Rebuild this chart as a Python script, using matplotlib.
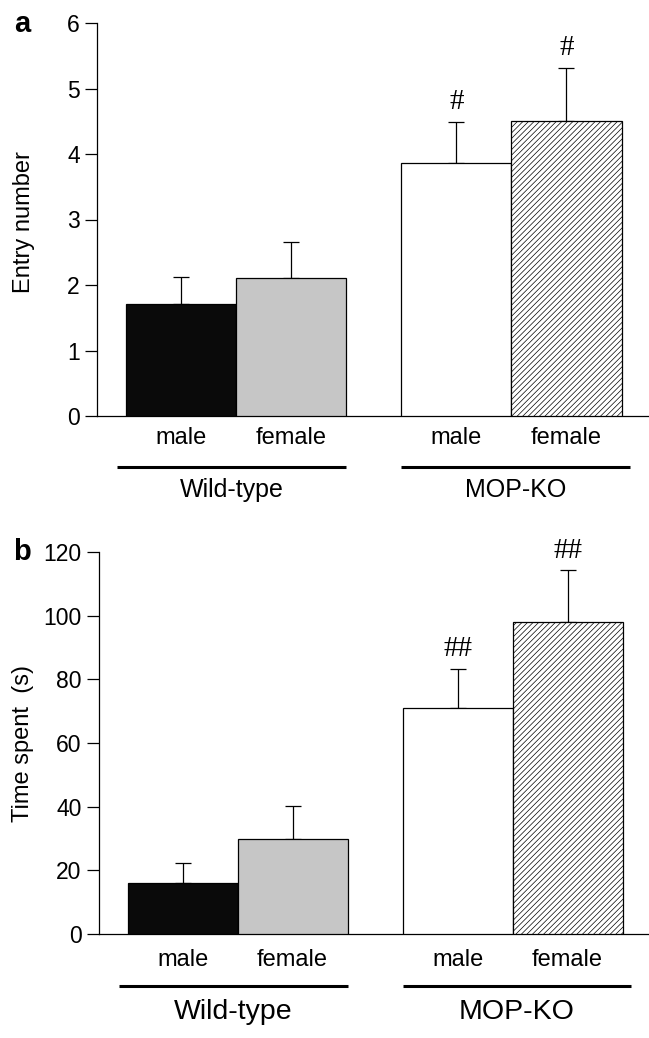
import numpy as np
import matplotlib
matplotlib.use('Agg')
import matplotlib.pyplot as plt
from matplotlib.transforms import blended_transform_factory

plt.rcParams['font.family'] = ['Liberation Sans', 'DejaVu Sans']
plt.rcParams['hatch.linewidth'] = 0.5

groups = ['Wild-type', 'MOP-KO']
sexes = ['male', 'female', 'male', 'female']

entry_mean = [1.71, 2.11, 3.86, 4.50]
entry_sem = [0.41, 0.54, 0.63, 0.82]
entry_marks = ['', '', '#', '#']

time_mean = [16.0, 29.9, 71.1, 98.1]
time_sem = [6.3, 10.4, 12.2, 16.1]
time_marks = ['', '', '##', '##']

x_pos = np.array([0.76, 1.76, 3.26, 4.26])
faces = ['#0a0a0a', '#c6c6c6', 'white', 'white']
hatches = [None, None, None, '//////']


def draw_panel(ax, means, sems, marks, ylim, yticks, lab_y, line_y, grp_y, grp_size):
    for x, m, f, h in zip(x_pos, means, faces, hatches):
        ax.bar(x, m, width=1.0, color=f, edgecolor='black', linewidth=0.9,
               hatch=h, zorder=3)
    ax.errorbar(x_pos, means, yerr=[np.zeros(4), sems], fmt='none',
                ecolor='black', elinewidth=0.9, capsize=6, capthick=0.9, zorder=2)
    for x, m, s, t in zip(x_pos, means, sems, marks):
        if t:
            ax.annotate(t, (x, m + s), xytext=(0, 5), textcoords='offset points',
                        ha='center', va='bottom', fontsize=21, family='Liberation Serif')

    ax.set_xlim(0, 5.0)
    ax.set_ylim(*ylim)
    ax.set_yticks(yticks)
    ax.set_xticks([])
    for sp in ['top', 'right']:
        ax.spines[sp].set_visible(False)
    ax.spines['left'].set_linewidth(0.9)
    ax.spines['bottom'].set_linewidth(0.9)
    ax.tick_params(axis='y', direction='out', length=9, width=0.9, pad=3.5, labelsize=16.5)

    # sex labels, group underlines and group names below the axis
    trans = blended_transform_factory(ax.transData, ax.transAxes)
    for x, s in zip(x_pos, sexes):
        ax.text(x, lab_y, s, transform=trans, ha='center', va='center', fontsize=17)
    spans = [(x_pos[0] - 0.58, x_pos[1] + 0.5), (x_pos[2] - 0.5, x_pos[3] + 0.58)]
    for (a, b), g in zip(spans, groups):
        ax.plot([a, b], [line_y, line_y], color='black', lw=2.2, transform=trans,
                clip_on=False, solid_capstyle='butt')
        ax.text((a + b) / 2, grp_y, g, transform=trans, ha='center', va='center',
                fontsize=grp_size)


fig = plt.figure(figsize=(6.49, 10.38), dpi=100)
W, H = 649, 1038

ax1 = fig.add_axes([97 / W, 1 - 416 / H, 551 / W, 393 / H])
draw_panel(ax1, entry_mean, entry_sem, entry_marks, (0, 6), range(0, 7),
           -0.056, -0.130, -0.188, 18)
fig.text(24 / W, 1 - 222 / H, 'Entry number', rotation=90, ha='center', va='center', fontsize=17)
fig.text(22 / W, 1 - 24 / H, 'a', ha='center', va='center', fontsize=21, fontweight='bold')

ax2 = fig.add_axes([99 / W, 1 - 934 / H, 550 / W, 382 / H])
draw_panel(ax2, time_mean, time_sem, time_marks, (0, 120), range(0, 121, 20),
           -0.068, -0.136, -0.204, 20.5)
fig.text(23 / W, 1 - 743 / H, 'Time spent  (s)', rotation=90, ha='center', va='center', fontsize=17)
fig.text(22 / W, 1 - 552 / H, 'b', ha='center', va='center', fontsize=21, fontweight='bold')

fig.savefig('out.png', dpi=100)
